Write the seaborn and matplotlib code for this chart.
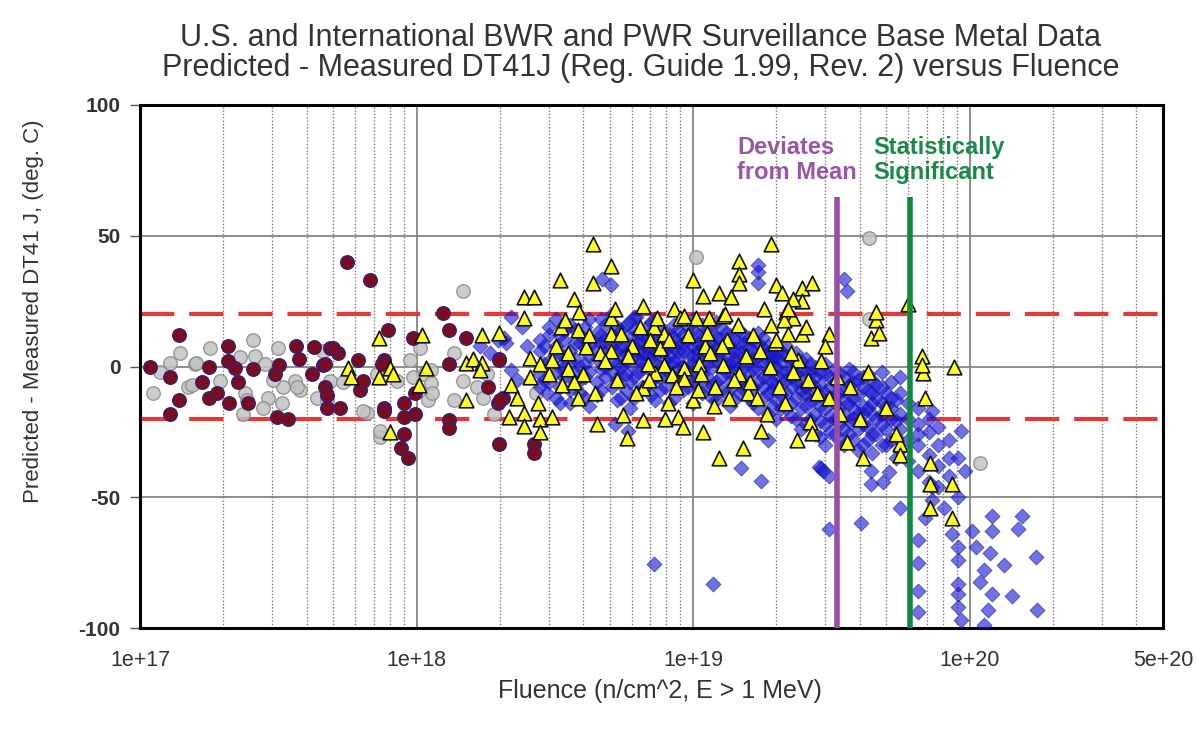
import numpy as np
import pandas as pd
import matplotlib
matplotlib.use("Agg")
import matplotlib.pyplot as plt
import seaborn as sns
from matplotlib.ticker import FixedLocator, FixedFormatter, LogLocator, NullFormatter

# ---------------- data ----------------
title_line1 = "U.S. and International BWR and PWR Surveillance Base Metal Data"
title_line2 = "Predicted - Measured DT41J (Reg. Guide 1.99, Rev. 2) versus Fluence"
x_label = "Fluence (n/cm^2, E > 1 MeV)"
y_label = "Predicted - Measured DT41 J, (deg. C)"

xtick_values = [1e17, 1e18, 1e19, 1e20, 5e20]
xtick_labels = ["1e+17", "1e+18", "1e+19", "1e+20", "5e+20"]
ytick_values = [-100, -50, 0, 50, 100]
ytick_labels = ["-100", "-50", "0", "50", "100"]

band_limit = 20.0
purple_line_fluence = 3.32e19
green_line_fluence = 6.06e19
marker_line_top = 65.0
purple_text = "Deviates\nfrom Mean"
green_text = "Statistically\nSignificant"

# gray circles
gray_fluence = [1.40e17, 1.28e17, 1.11e17, 1.49e17, 1.58e17, 1.79e17, 2.30e17, 2.57e17, 2.60e17,
                2.40e17, 2.36e17, 2.84e17, 2.90e17, 3.16e17, 3.30e17, 3.27e17, 3.64e17, 3.80e17,
                2.79e17, 4.60e17, 4.38e17, 4.76e17, 3.03e17, 1.54e17, 1.95e17, 1.60e17, 2.44e17,
                3.70e17, 4.88e17, 6.6e17, 7.4e17, 8.5e17, 9.5e17, 1.03e18, 1.06e18, 1.47e18,
                1.13e18, 1.13e18, 1.10e18, 1.37e18, 1.37e18, 1.47e18, 1.66e18, 1.74e18, 1.80e18,
                7.4e17, 6.4e17, 1.90e18, 1.14e18, 2.7e18, 9.7e17, 7.2e17, 1.18e17, 5.4e17,
                3.5e18, 5.0e18, 8.0e18, 1.5e19, 2.5e19, 1.02e19, 4.34e19, 4.34e19, 1.09e20]
gray_dt = [5, 1.5, -10, -8, 1, 7, 3.5, 10, 4,
           -10, -18, 1, -12, 7, -8, -14, -5.4, -9,
           -15.7, 6, -12, -13, -5, -7, -5.5, 1.5, -13,
           -8, -5.4, -17.6, -27, -5.4, 2.3, 7, -3, 29,
           -1.5, -6.5, -13, 5, -13, -5.4, -8, -12, -3,
           -24.5, -17, -18, -10, -10, -4, -3, -2, -6,
           -5, 8, -2, 5, -10, 42, 49, 18, -37]

# dark red circles
red_fluence = [1.09e17, 1.28e17, 1.38e17, 1.38e17, 1.28e17, 1.78e17, 1.68e17, 1.78e17, 1.90e17,
               2.08e17, 2.08e17, 2.20e17, 2.26e17, 2.10e17, 2.46e17, 2.57e17, 3.08e17, 3.19e17,
               3.14e17, 3.44e17, 3.67e17, 3.77e17, 4.24e17, 4.20e17, 4.60e17, 4.68e17, 4.76e17,
               4.88e17, 5.2e17, 5.0e17, 4.68e17, 6.16e17, 4.76e17, 5.3e17, 6.27e17, 6.4e17,
               7.9e17, 7.6e17, 7.5e17, 7.6e17, 7.6e17, 9.0e17, 9.0e17, 9.9e17, 9.7e17,
               9.9e17, 9.0e17, 8.8e17, 9.35e17, 5.62e17, 6.76e17, 1.25e18, 1.31e18, 1.51e18,
               1.31e18, 1.31e18, 1.31e18, 1.98e18, 1.81e18, 1.97e18, 2.06e18, 1.98e18, 1.98e18,
               2.66e18, 2.66e18, 2.0e18]
red_dt = [0, -4, 12, -13, -18, 0, -6, -12, -10,
          8, 2, -0.5, -6, -14, -14, -1, -3, 0.5,
          -19.5, -20, 8, 3, 7.6, -3, 0.4, -8, -15.7,
          7, 5, 7, 1, 2.3, -11, -16, -9, -5.4,
          14, 2.3, 1, -16, -17, -14, -19.5, -18, 11,
          -10, -26, -31, -35, 40, 33, 20.6, 14, 11,
          1, -20.6, -23.7, 3, -8, -14, -12, -29.5, 2.3,
          -29.5, -33, -13]

# yellow triangles
yellow_fluence = [7.3e17, 5.66e17, 5.77e17, 7.3e17, 8.0e17, 8.2e17, 1.05e18, 1.08e18, 1.02e18, 8.0e17,
                  1.51e18, 1.60e18, 1.73e18, 1.70e18, 1.73e18, 1.98e18, 1.51e18, 2.19e18, 2.15e18,
                  4.34e18, 5.05e18, 3.3e18, 4.34e18, 2.44e18, 2.66e18, 3.7e18, 6.6e18, 3.86e18,
                  2.44e18, 3.33e18, 5.05e18, 5.5e18, 4.1e18, 7.84e18, 7.2e18, 8.5e18, 9.0e18,
                  1.0e19, 2.58e18, 2.8e18, 2.58e18, 3.36e18, 3.53e18, 2.74e18, 2.44e18, 2.3e18,
                  2.8e18, 3.1e18, 2.44e18, 2.8e18, 3.83e18, 4.5e18, 5.6e18, 5.75e18, 6.6e18,
                  6.6e18, 7.84e18, 7.3e18, 8.4e18, 9.2e18, 8.1e18, 1.0e19, 7.9e18, 8.8e18,
                  9.2e18, 3.53e18, 4.0e18, 3.0e18, 5.05e18, 3.83e18, 3.45e18, 7.4e18, 5.05e18,
                  3.1e18, 6.85e18, 1.05e19, 1.92e19, 1.47e19, 1.47e19, 1.46e19, 1.09e19, 1.24e19,
                  1.37e19, 2.0e19, 2.1e19, 2.48e19, 2.48e19, 2.3e19, 2.7e19, 2.17e19, 2.3e19,
                  2.13e19, 1.92e19, 1.02e19, 1.14e19, 1.28e19, 1.8e19, 9.3e18, 2.48e19, 2.2e19,
                  1.97e19, 1.1e19, 9.3e18, 1.04e19, 1.47e19, 1.58e19, 1.28e19, 9.3e18, 2.4e19,
                  3.09e19, 1.09e19, 1.52e19, 1.24e19, 1.76e19, 2.37e19, 2.65e19, 2.7e19, 3.6e19,
                  4.1e19, 4.4e19, 4.6e19, 4.7e19, 6.7e19, 6.8e19, 6.7e19, 8.8e19, 6.9e19,
                  7.2e19, 7.2e19, 8.6e19, 8.6e19, 7.2e19, 5.6e19, 5.6e19, 6.0e19, 4.6e19,
                  4.6e18, 5.3e18, 6.0e18, 6.2e18, 7.0e18, 1.15e19, 1.2e19, 1.33e19, 1.4e19,
                  1.55e19, 1.65e19, 1.7e19, 1.9e19, 2.05e19, 2.25e19, 2.6e19, 2.9e19, 3.1e19,
                  3.4e19, 3.7e19, 4.0e19, 4.3e19, 5.0e19, 5.4e19, 1.3e19,
                  3.2e18, 3.7e18, 4.2e18, 4.4e18, 4.8e18, 5.2e18, 5.8e18, 6.4e18, 6.9e18,
                  7.6e18, 8.2e18, 8.7e18, 9.6e18, 1.07e19, 1.12e19, 1.19e19, 1.27e19, 1.35e19,
                  1.45e19, 1.6e19, 1.75e19, 1.85e19, 2.0e19, 2.15e19, 2.3e19, 2.55e19, 2.8e19,
                  3.0e19, 3.3e19, 2.2e19]
yellow_dt = [11, -0.4, -4, -4, -0.4, -3, 12, -0.4, -7, -25,
             1.5, 3, 1.5, -1.5, 12, 13, -13, -7, -19.5,
             47, 38.6, 33, 32, 26.4, 26.4, 26, 23, 21,
             18.7, 15, 12.6, 12.6, 7.3, 12.6, 15, 22, 18.7,
             33, 3.4, 1, -4, -7, -1, -14, -17.6, -12,
             -20, -19.5, -22.6, -25, -12, -22, -18.7, -27.5, -20.6,
             -8.4, 0.4, -2.3, -3.4, -4, -14, -13, -20, -19.5,
             -23, 5, -2.7, -2.7, 18.4, 13.8, 17.6, 18.7, 6,
             2.3, 1, 1, 47, 40.5, 35.5, 32, 27, 28,
             26.4, 31, 28, 30, 25, 26, 32, 21, 18.7,
             17.6, 15.7, 18.7, 18.4, 19.5, 22, 19.5, 12.6, 12.6,
             8.8, 8, -0.4, -9, -2.7, -10, 0.4, -4.6, 2.3,
             12.6, -25, -31, -35, -24.5, -28, -21.4, -25.6, -29,
             -35, 11, 17.6, 13, 4, -2.3, 0.4, 0, -12,
             -37, -45, -45, -58, -54, -29.5, -34, 24, 21,
             5, -5, 8, -10, 10, 5, -8, 10, -5,
             4, 12, -12, 0, -8, 5, -5, 2, -12,
             -18, -8, -20, -2, -16, -26, 20,
             8, -6, 12, -10, 2, 22, 4, 15, -5,
             7, 10, -8, 12, -3, 13, -15, 8, -12,
             16, -6, 6, -18, 10, -14, -2, 15, -10,
             8, -4, 22]

# blue diamonds: dense core, one fluence column with its values
blue_core_fluence = [2.8e18, 3.0e18, 3.2e18, 3.4e18, 3.6e18, 3.9e18, 4.2e18, 4.5e18, 4.8e18,
                     5.1e18, 5.5e18, 5.9e18, 6.3e18, 6.8e18, 7.3e18, 7.9e18, 8.5e18, 9.2e18,
                     1.0e19, 1.08e19, 1.17e19, 1.26e19, 1.36e19, 1.47e19, 1.59e19, 1.72e19,
                     1.86e19, 2.0e19, 2.17e19, 2.35e19, 2.55e19, 2.75e19, 3.0e19, 3.25e19,
                     3.5e19, 3.8e19, 4.1e19, 4.45e19, 4.8e19, 5.2e19, 5.6e19, 6.0e19, 6.5e19,
                     7.1e19, 7.7e19, 8.4e19,
                     2.9e18, 3.3e18, 3.75e18, 4.05e18, 4.65e18, 5.3e18, 5.7e18, 6.1e18, 6.55e18,
                     7.05e18, 7.6e18, 8.2e18, 8.85e18, 9.6e18, 1.04e19, 1.12e19, 1.21e19, 1.31e19,
                     1.41e19, 1.53e19, 1.65e19, 1.79e19, 1.93e19, 2.08e19, 2.26e19, 2.45e19,
                     2.65e19, 2.88e19, 3.12e19, 3.38e19, 3.65e19, 3.95e19, 4.3e19, 4.6e19,
                     5.0e19, 5.4e19]
blue_core_dt = [[6, -3, 10, -8], [2, 12, -6, 15], [-2, 8, -12, 4, 18], [10, -4, 0, 14],
                [6, -9, 16, 2, -14], [0, 9, -5, 12, -10], [4, 18, -2, 8, -15, 11],
                [-6, 3, 13, 7, -11], [10, 0, -4, 16, 5], [2, -8, 12, 20, -2, 7],
                [8, -3, 4, 14, -12, 0], [11, 1, -6, 17, 6, -16], [3, 9, -2, 13, -10, 6],
                [0, 7, 15, -7, 4, 11], [5, -4, 10, 1, 18, -13], [8, -1, 3, 13, -8, 6],
                [2, 11, -5, 7, -12, 16], [6, -2, 12, 0, 9, -9], [4, 14, -6, 8, 1, -14, 18],
                [7, -3, 11, 2, -10, 16], [0, 9, 5, -7, 13, -12], [10, 3, -4, 15, -9, 6],
                [1, 8, -6, 12, -2, -15], [5, -10, 9, 0, 14, -5], [-3, 7, 2, -12, 11, -7],
                [4, -6, 9, -1, -16, 13], [-4, 2, 8, -10, -18, 5], [0, -7, 6, -13, 3, -20],
                [-2, -10, 4, -16, 8, -5], [-6, 1, -12, -20, 5, -3], [-8, -2, -15, 3, -22, -10],
                [-4, -12, 0, -18, -26, -8], [-10, -3, -16, -22, 1, -30], [-6, -14, -20, -1, -26, -11],
                [-9, -18, -4, -24, -13, -30], [-12, -20, -6, -28, -16, -2], [-15, -8, -22, -30, -4, -18],
                [-10, -18, -26, -5, -14, -33], [-14, -22, -8, -30, -2, -18], [-12, -20, -28, -6, -16],
                [-18, -24, -10, -32, -4], [-20, -28, -14, -36], [-22, -30, -16, -40, -26],
                [-25, -34, -44, -20], [-30, -38, -46], [-28, -35, -42],
                [8, -5, 1], [5, -8, 12, 0], [3, 14, -6, 9, -2], [7, -12, 1, 15, -4],
                [12, -1, 4, -9, 18, 9], [6, 15, -5, 1, 10, -13], [2, 9, -9, 16, 5, -3],
                [14, 4, -4, 8, -12, 19], [9, -1, 5, 12, -8, 2], [3, 13, -6, 7, -11, 17],
                [10, 0, 6, -4, 15, -9], [4, 12, -2, 8, -14, 1], [9, -6, 14, 3, -1, 6],
                [0, 10, -8, 5, 15, -3], [12, 3, -5, 9, -1, 6], [5, -8, 14, 1, 8, -4],
                [2, 11, -6, 7, -13, 17], [8, -2, 4, 13, -10, 0], [3, -7, 10, -13, 6, 1],
                [9, 0, -5, 12, -9, 4], [-1, 6, -8, 3, -14, 10], [1, -4, 7, -12, -8, 11],
                [-2, 5, -9, -15, 3, -6], [2, -5, -11, 6, -16, -2], [-4, 3, -8, -14, 0, -19],
                [-1, -9, 2, -16, -6, -24], [-6, -13, 1, -20, -3], [-7, -15, -2, -21, -11, -27],
                [-4, -12, -19, -8, -25], [-10, -16, -3, -22, -28], [-7, -14, -21, -1, -26],
                [-11, -18, -5, -24, -32], [-9, -16, -23, -3, -28], [-12, -20, -7, -26],
                [-15, -24, -10, -30], [-13, -21, -27, -35]]

# blue diamonds: scattered points outside the core
blue_fluence = [1.18e19, 1.49e19, 1.76e19, 1.87e19, 3.09e19, 4.05e19, 2.9e19, 3.09e19, 4.4e19,
                4.86e19, 4.4e19, 5.1e19, 5.6e19, 6.5e19, 6.5e19, 6.5e19, 6.5e19, 6.9e19,
                7.3e19, 7.3e19, 8.1e19, 8.6e19, 9.1e19, 9.1e19, 9.1e19, 9.1e19, 9.1e19,
                9.3e19, 9.1e19, 9.3e19, 9.1e19, 9.6e19, 1.02e20, 1.05e20, 1.2e20, 1.2e20,
                1.18e20, 1.33e20, 1.09e20, 1.13e20, 1.2e20, 1.42e20, 1.16e20, 1.13e20, 1.74e20,
                1.75e20, 1.54e20, 1.5e20, 7.2e18, 2.95e19, 1.72e19, 1.72e19, 1.72e19, 3.5e19,
                3.6e19, 2.85e19, 2.19e18, 1.97e18, 2.1e18, 2.19e18, 2.3e18, 4.7e18, 5.05e18,
                2.97e18, 3.3e18, 5.2e18, 5.8e18, 6.2e18, 1.7e18, 1.85e18, 2.07e18, 2.5e18,
                2.4e18, 7.3e19, 7.7e19]
blue_dt = [-83, -39, -43.6, -28, -62, -60, -39, -42, -45,
           -44, -40, -40.5, -54, -66.5, -75, -86, -94, -58,
           -51, -46, -54, -64, -69, -74, -83, -87, -92,
           -97, -50, -24.5, -35, -40, -63, -69, -57, -63,
           -71.5, -76, -82.6, -78, -87, -87.6, -93, -99, -73,
           -93, -57, -62, -75.7, -40, 39, 36, 32, 33.6,
           29, -38.6, 19, 10, 9, -1.5, -5, 33.6, 31,
           -10, -14, -22, -24.5, 19, 8, 5, 11, 8,
           15, -17, -23]

# ---------------- build frames ----------------
core_f = [f for f, vals in zip(blue_core_fluence, blue_core_dt) for _ in vals]
core_v = [v for vals in blue_core_dt for v in vals]
df_gray = pd.DataFrame({"fluence": gray_fluence, "dt": gray_dt})
df_red = pd.DataFrame({"fluence": red_fluence, "dt": red_dt})
df_yellow = pd.DataFrame({"fluence": yellow_fluence, "dt": yellow_dt})
df_blue = pd.DataFrame({"fluence": core_f + blue_fluence, "dt": core_v + blue_dt})

# ---------------- style ----------------
sns.set_theme(style="white")
plt.rcParams["font.family"] = ["Liberation Sans", "DejaVu Sans"]

fig = plt.figure(figsize=(11.96, 7.31), dpi=100)
ax = fig.add_axes([140 / 1196, 1 - 628 / 731, 1023 / 1196, 523 / 731])
ax.set_xscale("log")
ax.set_xlim(1e17, 5e20)
ax.set_ylim(-100, 100)

# grid
ax.set_axisbelow(True)
ax.xaxis.set_major_locator(FixedLocator(xtick_values))
ax.xaxis.set_major_formatter(FixedFormatter(xtick_labels))
ax.xaxis.set_minor_locator(LogLocator(base=10, subs=np.arange(2, 10), numticks=50))
ax.xaxis.set_minor_formatter(NullFormatter())
ax.yaxis.set_major_locator(FixedLocator(ytick_values))
ax.yaxis.set_major_formatter(FixedFormatter(ytick_labels))
ax.grid(which="major", axis="both", color="#858585", linewidth=1.3, linestyle="-", zorder=0)
ax.grid(which="minor", axis="x", color="#7a7a7a", linewidth=1.0, linestyle=(0, (1, 1.4)), zorder=0)

# +/- 20 band
for lim in (band_limit, -band_limit):
    ax.axhline(lim, color="#E23A3A", linewidth=3, linestyle=(0, (8.2, 3.6)), zorder=1)

# scatter series
sns.scatterplot(data=df_gray, x="fluence", y="dt", ax=ax, marker="o", s=95,
                color="#C2C2C2", edgecolor="#8A8A8A", linewidth=1.0, alpha=0.85, zorder=3, legend=False)
sns.scatterplot(data=df_red, x="fluence", y="dt", ax=ax, marker="o", s=95,
                color="#7A0C22", edgecolor="#35206E", linewidth=1.0, zorder=4, legend=False)
sns.scatterplot(data=df_blue, x="fluence", y="dt", ax=ax, marker="D", s=58,
                color="#1212D6", edgecolor="#2020A8", linewidth=0.7, alpha=0.6, zorder=5, legend=False)
sns.scatterplot(data=df_yellow, x="fluence", y="dt", ax=ax, marker="^", s=110,
                color="#FFFF1A", edgecolor="#111111", linewidth=1.2, zorder=6, legend=False)

# vertical markers and their notes
ax.plot([purple_line_fluence, purple_line_fluence], [marker_line_top, -100],
        color="#9A4DA8", linewidth=4, solid_capstyle="butt", zorder=8)
ax.plot([green_line_fluence, green_line_fluence], [marker_line_top, -100],
        color="#0F8A40", linewidth=4, solid_capstyle="butt", zorder=8)
ax.text(1.44e19, 88, purple_text, color="#9B55A8", fontsize=17, fontweight="bold",
        ha="left", va="top", linespacing=1.1, zorder=9)
ax.text(4.49e19, 88, green_text, color="#1A8A4A", fontsize=17, fontweight="bold",
        ha="left", va="top", linespacing=1.1, zorder=9)

# spines and ticks
for sp in ax.spines.values():
    sp.set_color("black")
    sp.set_linewidth(2.2)
ax.tick_params(axis="y", which="major", length=7, width=1, color="#555555",
               labelsize=15, labelcolor="#333333", pad=7, left=True)
ax.tick_params(axis="x", which="both", length=0, labelsize=15.5, labelcolor="#333333", pad=16)
for lab in ax.get_yticklabels():
    lab.set_fontweight("bold")

ax.set_xlabel(x_label, fontsize=18, color="#333333")
ax.set_ylabel(y_label, fontsize=16, color="#333333")
ax.xaxis.set_label_coords(0.508, -0.097)
ax.yaxis.set_label_coords(-0.094, 0.606)

fig.text(0.536, 1 - 38 / 731, title_line1, ha="center", va="center", fontsize=22, color="#333333")
fig.text(0.536, 1 - 68 / 731, title_line2, ha="center", va="center", fontsize=22, color="#333333")

fig.savefig("out.png", dpi=100)
